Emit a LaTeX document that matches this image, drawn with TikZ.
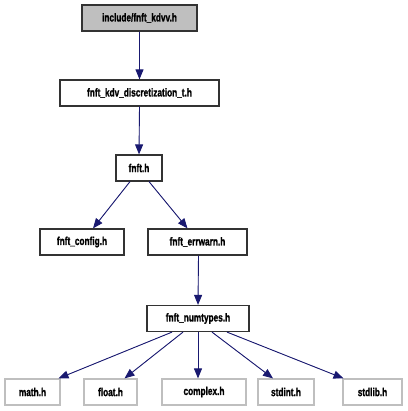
\documentclass[tikz,border=0pt]{standalone}
\usepackage{fontspec}
\setmainfont{Liberation Sans}[FakeStretch=0.72, FakeBold=1.2]
\usetikzlibrary{arrows.meta}
\definecolor{edgeblue}{HTML}{191970}
\definecolor{rootfill}{HTML}{BFBFBF}
\definecolor{sysgray}{HTML}{BFBFBF}
\tikzset{
  x=1pt, y=-1pt,
  file/.style={draw=black!80, line width=1.2pt, minimum height=26pt, inner sep=0pt,
    font=\bfseries\fontsize{11.5}{13}\selectfont, anchor=center},
  rootfile/.style={file, fill=rootfill},
  sysfile/.style={file, draw=sysgray},
  dep/.style={draw=edgeblue, line width=0.9pt,
    -{Triangle[length=10pt,width=8pt]}, fill=edgeblue}
}
\begin{document}
\begin{tikzpicture}
\useasboundingbox (0,0) rectangle (407,411);
\node[rootfile, minimum width=115pt] (kdvv) at (139.5,18) {include/fnft\_kdvv.h};
\node[file, minimum width=159pt] (disc) at (139.5,93) {fnft\_kdv\_discretization\_t.h};
\node[file, minimum width=46pt] (fnft) at (139,168) {fnft.h};
\node[file, minimum width=84pt] (config) at (82,242) {fnft\_config.h};
\node[file, minimum width=99pt] (errwarn) at (197.5,242) {fnft\_errwarn.h};
\node[file, minimum width=102pt] (numtypes) at (198,318.5) {fnft\_numtypes.h};
\node[sysfile, minimum width=55pt] (math) at (32.5,392) {math.h};
\node[sysfile, minimum width=53pt] (float) at (110.5,392) {float.h};
\node[sysfile, minimum width=84pt] (complex) at (204,392) {complex.h};
\node[sysfile, minimum width=56pt] (stdint) at (286,392) {stdint.h};
\node[sysfile, minimum width=59pt] (stdlib) at (372.5,392) {stdlib.h};

\draw[dep] (kdvv.south) -- (disc.north);
\draw[dep] (disc.south) -- (fnft.north);
\draw[dep] ([xshift=-9pt]fnft.south) -- ([xshift=11pt]config.north);
\draw[dep] ([xshift=10pt]fnft.south) -- ([xshift=-10pt]errwarn.north);
\draw[dep] ([xshift=1pt]errwarn.south) -- (numtypes.north);
\draw[dep] ([xshift=-26pt]numtypes.south) -- ([xshift=26pt]math.north);
\draw[dep] ([xshift=-15pt]numtypes.south) -- ([xshift=14pt]float.north);
\draw[dep] (numtypes.south) -- ([xshift=-6pt]complex.north);
\draw[dep] ([xshift=14pt]numtypes.south) -- ([xshift=-13pt]stdint.north);
\draw[dep] ([xshift=29pt]numtypes.south) -- ([xshift=-29pt]stdlib.north);
\end{tikzpicture}
\end{document}
